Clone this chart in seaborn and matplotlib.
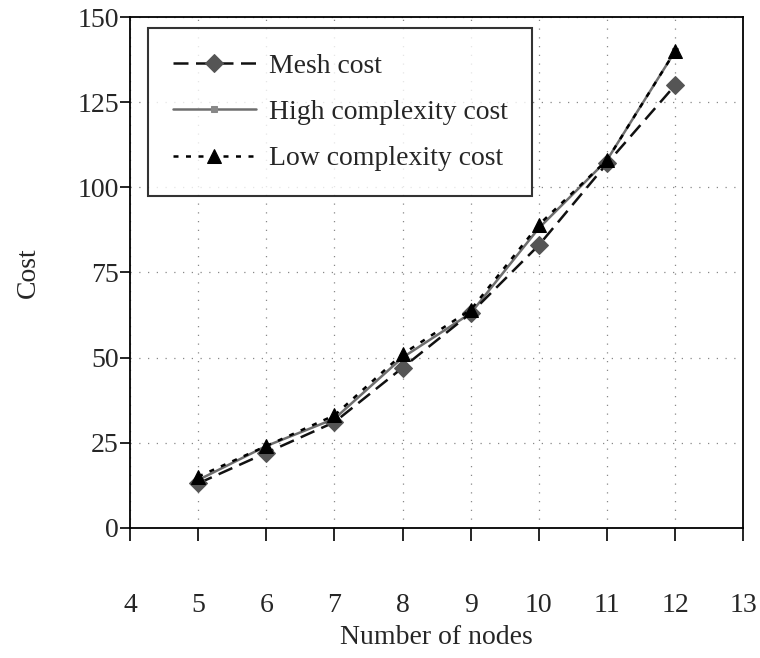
import matplotlib
matplotlib.use("Agg")
import matplotlib.pyplot as plt
import seaborn as sns
import pandas as pd

nodes = [5, 6, 7, 8, 9, 10, 11, 12]
mesh_cost = [13, 22, 31, 47, 63, 83, 107, 130]
high_cost = [14, 24, 32, 50, 63, 88, 108, 140]
low_cost = [15, 24, 33, 51, 64, 89, 108, 140]
series_names = ["Mesh cost", "High complexity cost", "Low complexity cost"]
x_ticks = [4, 5, 6, 7, 8, 9, 10, 11, 12, 13]
y_ticks = [0, 25, 50, 75, 100, 125, 150]

rows = []
for name, vals in zip(series_names, [mesh_cost, high_cost, low_cost]):
    for n, v in zip(nodes, vals):
        rows.append({"Number of nodes": n, "Cost": v, "Series": name})
df = pd.DataFrame(rows)

sns.set_theme(style="white")
plt.rcParams["font.family"] = ["Liberation Serif", "DejaVu Serif"]
plt.rcParams["font.size"] = 20

fig = plt.figure(figsize=(7.6, 6.58), dpi=100)
ax = fig.add_axes([0.171, 0.198, 0.807, 0.776])

palette = {"Mesh cost": "#111111", "High complexity cost": "#6e6e6e",
           "Low complexity cost": "#000000"}
dashes = {"Mesh cost": (6, 3), "High complexity cost": "",
          "Low complexity cost": (2, 3)}
markers = {"Mesh cost": "D", "High complexity cost": "s",
           "Low complexity cost": "^"}

styles = {
    "Mesh cost": dict(mfc="#555555", mec="#555555", ms=9, z=3),
    "High complexity cost": dict(mfc="#888888", mec="#888888", ms=5, z=2),
    "Low complexity cost": dict(mfc="black", mec="black", ms=10, z=4),
}
for name in series_names:
    sub = df[df["Series"] == name]
    st = styles[name]
    sns.lineplot(data=sub, x="Number of nodes", y="Cost", ax=ax,
                 color=palette[name], marker=markers[name],
                 markersize=st["ms"], markerfacecolor=st["mfc"],
                 markeredgecolor=st["mec"], linewidth=1.8,
                 dashes=False, label=name, zorder=st["z"])
    line = ax.get_lines()[-1]
    if dashes[name]:
        line.set_dashes(dashes[name])

ax.set_xlim(4, 13)
ax.set_ylim(0, 150)
ax.set_xticks(x_ticks)
ax.set_yticks(y_ticks)
ax.grid(True, linestyle=(0, (1, 6)), color="#888888", linewidth=0.9)
for s in ax.spines.values():
    s.set_color("black")
    s.set_linewidth(1.3)
ax.tick_params(axis="x", direction="out", length=9, width=1.2, pad=38,
               labelsize=20, bottom=True, color="black")
ax.tick_params(axis="y", direction="out", length=7, width=1.2, pad=1,
               labelsize=20, left=True, color="black")
ax.set_xlabel("Number of nodes", fontsize=20, labelpad=5)
ax.set_ylabel("Cost", fontsize=20, labelpad=26)

leg = ax.legend(loc="upper left", bbox_to_anchor=(0.029, 0.978),
                fontsize=20, frameon=True, fancybox=False, shadow=False,
                handlelength=3.0, borderpad=0.9, labelspacing=0.75,
                handletextpad=0.45, borderaxespad=0)
leg.get_frame().set_edgecolor("black")
leg.get_frame().set_linewidth(1.5)

fig.savefig("out.png", dpi=100)
